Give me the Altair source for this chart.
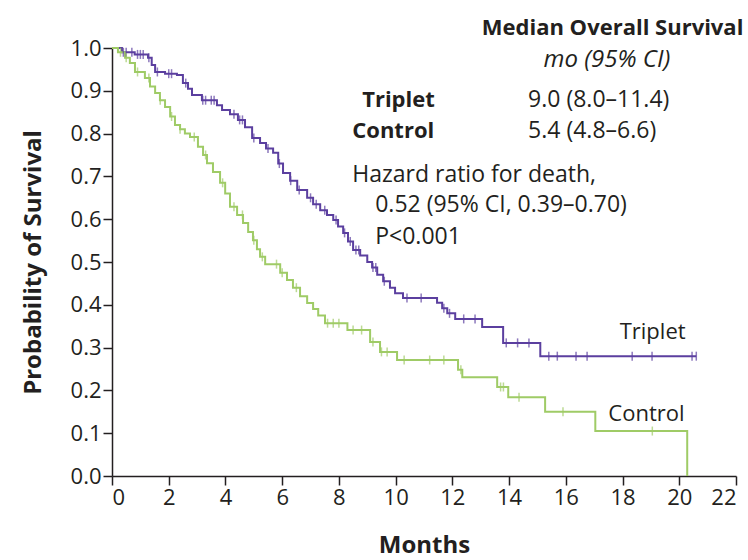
import altair as alt
import pandas as pd
import numpy as np

# ---- Kaplan-Meier estimates (months, survival) ----
trip_t = [0, 0.35, 0.8, 1.27, 1.4, 1.52, 1.87, 2.29, 2.5, 2.68, 2.82, 3.17, 3.7, 3.88,
          4.16, 4.44, 4.69, 4.94, 5.22, 5.43, 5.68, 5.86, 6.03, 6.28, 6.53, 6.88, 7.09,
          7.34, 7.58, 7.8, 7.97, 8.15, 8.32, 8.5, 8.75, 9.0, 9.17, 9.35, 9.56, 9.8, 9.98,
          10.26, 11.46, 11.64, 11.82, 12.1, 13.05, 13.79, 15.1, 20.6]
trip_s = [1.0, 0.99, 0.985, 0.977, 0.96, 0.944, 0.94, 0.937, 0.918, 0.905, 0.89, 0.878,
          0.866, 0.855, 0.845, 0.832, 0.815, 0.79, 0.778, 0.765, 0.755, 0.73, 0.708, 0.69,
          0.668, 0.65, 0.635, 0.621, 0.61, 0.598, 0.583, 0.568, 0.548, 0.528, 0.515, 0.5,
          0.487, 0.47, 0.455, 0.44, 0.427, 0.416, 0.405, 0.392, 0.38, 0.367, 0.348, 0.311,
          0.28, 0.28]

ctrl_t = [0, 0.21, 0.46, 0.63, 0.81, 1.16, 1.34, 1.52, 1.69, 1.87, 2.05, 2.22, 2.4, 2.57,
          2.75, 3.03, 3.21, 3.35, 3.56, 3.81, 3.99, 4.16, 4.41, 4.62, 4.8, 4.97, 5.11, 5.22,
          5.4, 5.93, 6.17, 6.38, 6.63, 6.88, 7.09, 7.27, 7.51, 8.3, 9.1, 9.45, 10.05, 12.2,
          12.35, 13.58, 13.97, 15.27, 17.04, 20.28]
ctrl_s = [1.0, 0.99, 0.977, 0.965, 0.944, 0.93, 0.91, 0.895, 0.878, 0.862, 0.84, 0.82,
          0.81, 0.8, 0.792, 0.769, 0.75, 0.731, 0.71, 0.685, 0.66, 0.629, 0.61, 0.591, 0.57,
          0.551, 0.53, 0.512, 0.495, 0.475, 0.458, 0.44, 0.42, 0.404, 0.39, 0.375, 0.357,
          0.341, 0.313, 0.29, 0.271, 0.248, 0.231, 0.208, 0.184, 0.15, 0.105, 0.0]

# censoring marks (months)
trip_cens = [0.4, 0.5, 0.7, 0.9, 1.0, 1.1, 1.3, 1.6, 2.0, 2.1, 2.6, 3.2, 3.3, 3.5, 3.6,
             4.3, 4.5, 4.6, 5.0, 5.5, 5.9, 6.3, 6.6, 7.0, 7.2, 7.5, 7.9, 8.2, 8.4, 8.6,
             8.7, 9.2, 9.3, 9.6, 10.4, 10.9, 11.7, 11.9, 12.4, 12.8, 13.9, 14.3, 14.7,
             15.4, 15.7, 16.36, 16.75, 18.34, 19.04, 20.45, 20.6]
ctrl_cens = [0.3, 0.5, 0.9, 1.3, 1.7, 2.1, 2.4, 2.9, 3.3, 3.9, 4.3, 4.6, 5.0, 5.3, 5.8,
             6.0, 6.5, 7.6, 7.8, 8.0, 8.5, 8.8, 9.2, 9.5, 9.7, 10.3, 11.2, 11.7, 12.3,
             13.7, 13.8, 14.35, 15.9, 19.05]

groups = ["Triplet", "Control"]
colors = ["#5b3f9f", "#9fcb66"]


def lookup(times, surv, c):
    idx = np.searchsorted(np.array(times), c, side="right") - 1
    return surv[max(idx, 0)]


line_df = pd.concat([
    pd.DataFrame({"t": trip_t, "s": trip_s, "g": "Triplet"}),
    pd.DataFrame({"t": ctrl_t, "s": ctrl_s, "g": "Control"}),
])
cens_df = pd.concat([
    pd.DataFrame({"t": trip_cens, "s": [lookup(trip_t, trip_s, c) for c in trip_cens], "g": "Triplet"}),
    pd.DataFrame({"t": ctrl_cens, "s": [lookup(ctrl_t, ctrl_s, c) for c in ctrl_cens], "g": "Control"}),
])

# ---- annotation texts ----
ann_text = ["Median Overall Survival", "mo (95% CI)", "Triplet", "Control",
            "9.0 (8.0–11.4)", "5.4 (4.8–6.6)", "Hazard ratio for death,",
            "0.52 (95% CI, 0.39–0.70)", "P<0.001", "Triplet", "Control"]
ann_x = [22.26, 17.45, 8.82, 8.47, 14.67, 14.67, 8.47, 9.28, 9.28, 17.9, 17.5]
ann_y = [1.047, 0.972, 0.879, 0.806, 0.879, 0.806, 0.703, 0.633, 0.558, 0.336, 0.145]
ann_kind = ["boldR", "italicC", "bold", "bold", "reg", "reg", "reg", "reg", "reg", "curve", "curve"]
ann_df = pd.DataFrame({"text": ann_text, "x": ann_x, "y": ann_y, "kind": ann_kind})

FONT = "Open Sans"
TXT = "#231f20"

xs = alt.Scale(domain=[0, 22], nice=False)
ys = alt.Scale(domain=[0, 1], nice=False)
cs = alt.Scale(domain=groups, range=colors)

xaxis = alt.Axis(values=list(range(0, 23, 2)), title="Months", grid=False,
                 tickSize=9, tickWidth=1.5, tickColor="#231f20", domainColor="#231f20",
                 domainWidth=1.5, labelFont=FONT, labelFontSize=22, labelColor=TXT,
                 labelPadding=2, titleFont=FONT, titleFontSize=24, titleFontWeight="bold",
                 titleColor=TXT, titlePadding=25)
yaxis = alt.Axis(values=[i / 10 for i in range(11)], format=".1f", title="Probability of Survival",
                 grid=False, tickSize=9, tickWidth=1.5, tickColor="#231f20", domainColor="#231f20",
                 domainWidth=1.5, labelFont=FONT, labelFontSize=22, labelColor=TXT,
                 labelPadding=2, titleFont=FONT, titleFontSize=24, titleFontWeight="bold",
                 titleColor=TXT, titlePadding=25)

lines = alt.Chart(line_df).mark_line(interpolate="step-after", strokeWidth=2).encode(
    x=alt.X("t:Q", scale=xs, axis=xaxis),
    y=alt.Y("s:Q", scale=ys, axis=yaxis),
    color=alt.Color("g:N", scale=cs, legend=None),
    detail="g:N",
)
ticks = alt.Chart(cens_df).mark_tick(orient="vertical", size=9, thickness=1.5).encode(
    x=alt.X("t:Q", scale=xs),
    y=alt.Y("s:Q", scale=ys),
    color=alt.Color("g:N", scale=cs, legend=None),
)

base = alt.Chart(ann_df)
enc = dict(x=alt.X("x:Q", scale=xs), y=alt.Y("y:Q", scale=ys), text="text:N")
t_boldR = base.transform_filter(alt.datum.kind == "boldR").mark_text(
    align="right", baseline="middle", font=FONT, fontSize=22, fontWeight="bold", color=TXT
).encode(**enc)
t_ital = base.transform_filter(alt.datum.kind == "italicC").mark_text(
    align="center", baseline="middle", font=FONT, fontSize=24, fontStyle="italic", color=TXT
).encode(**enc)
t_bold = base.transform_filter(alt.datum.kind == "bold").mark_text(
    align="left", baseline="middle", font=FONT, fontSize=22, fontWeight="bold", color=TXT
).encode(**enc)
t_reg = base.transform_filter(alt.datum.kind == "reg").mark_text(
    align="left", baseline="middle", font=FONT, fontSize=23, color=TXT
).encode(**enc)
t_curve = base.transform_filter(alt.datum.kind == "curve").mark_text(
    align="left", baseline="middle", font=FONT, fontSize=22, color=TXT
).encode(**enc)

chart = alt.layer(lines, ticks, t_boldR, t_ital, t_bold, t_reg, t_curve).properties(
    width=624, height=428,
    autosize=alt.AutoSizeParams(type="none"),
    padding={"left": 112, "top": 48, "right": 12, "bottom": 84},
    background="white",
).configure_view(stroke=None)

chart.save("out.html", embed_options={"renderer": "svg", "actions": False})
